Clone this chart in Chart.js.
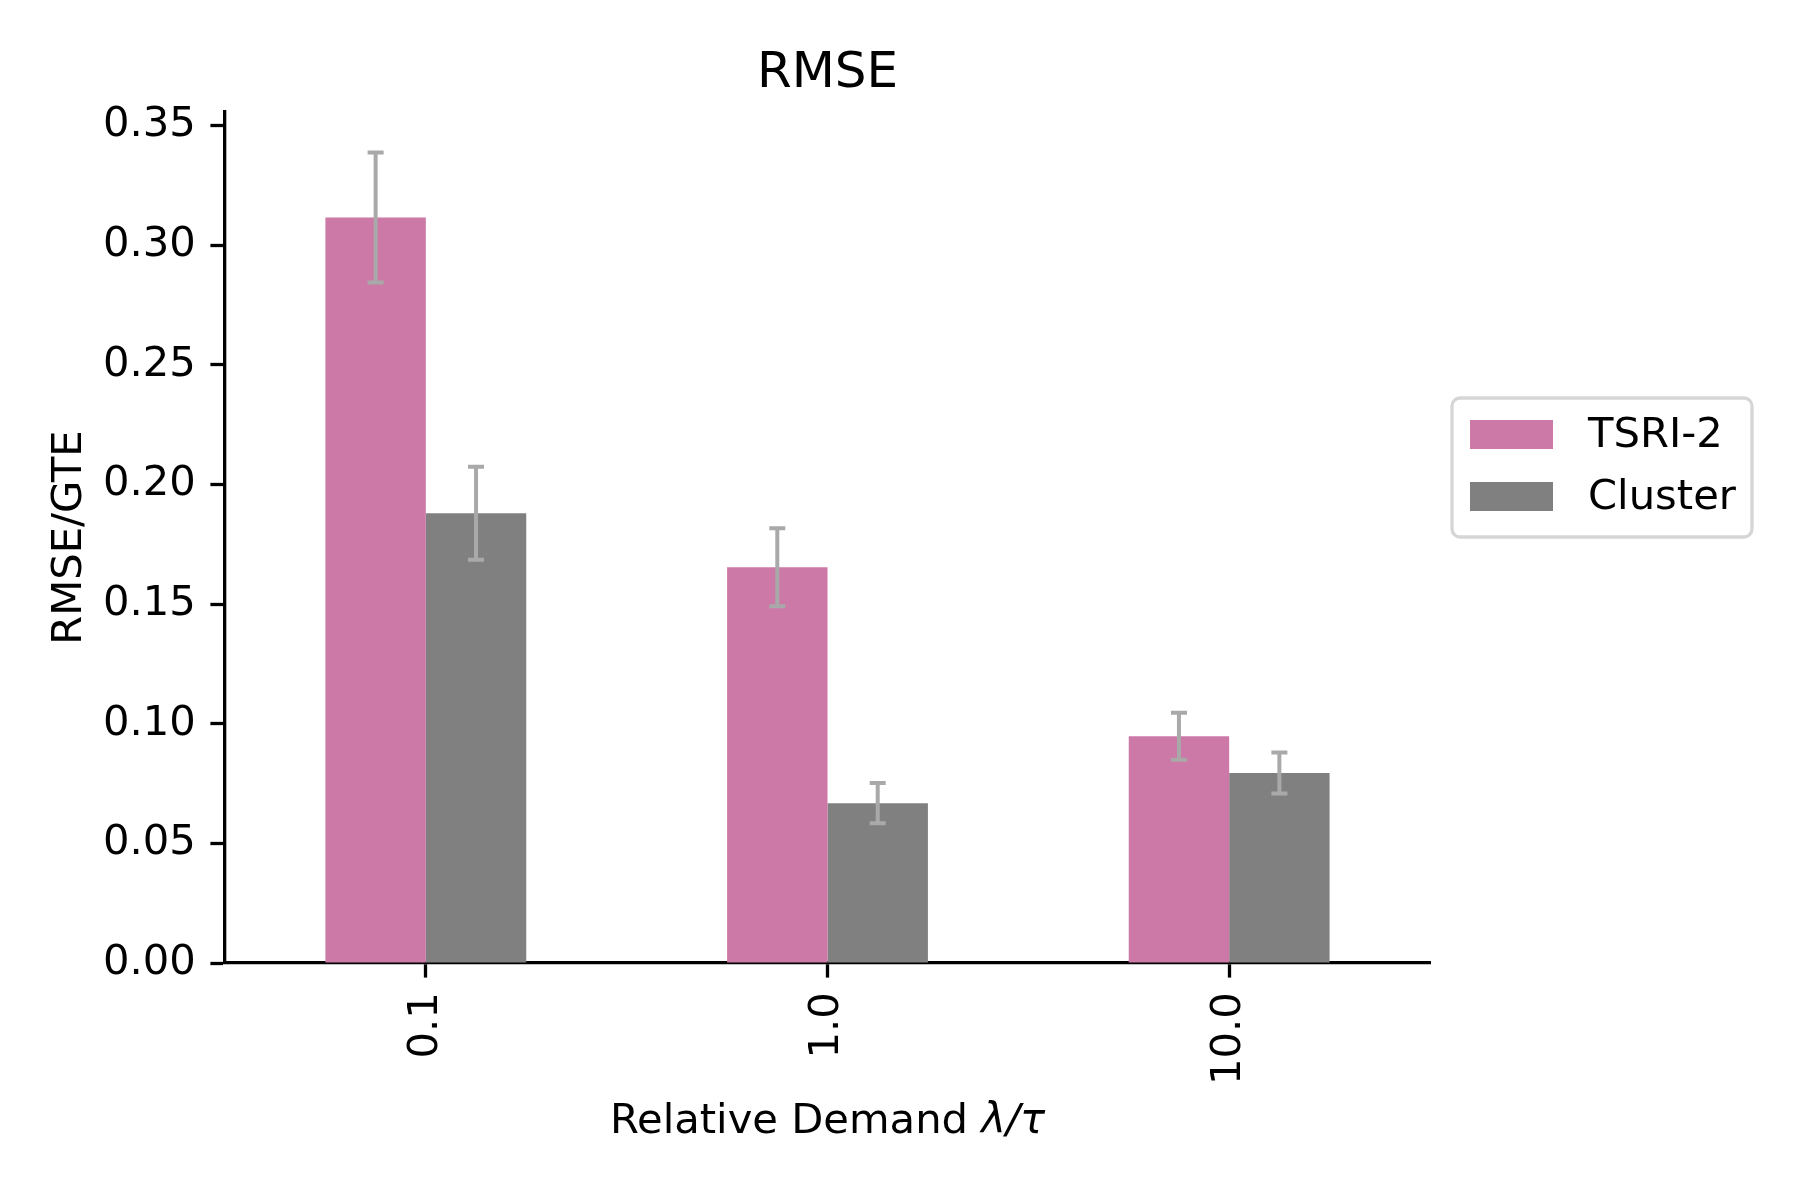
<!DOCTYPE html>
<html>
<head>
<meta charset="utf-8">
<script src="https://cdn.jsdelivr.net/npm/chart.js@4.4.1/dist/chart.umd.min.js"></script>
<style>
  html, body { margin: 0; padding: 0; background: #fff; }
</style>
</head>
<body>
<canvas id="chart" width="1800" height="1200"></canvas>
<script>
// data
const categories = ['0.1', '1.0', '10.0'];
const tsriValues = [0.3116, 0.1654, 0.0948];
const tsriErrors = [0.0272, 0.0163, 0.0098];
const clusterValues = [0.1880, 0.0668, 0.0794];
const clusterErrors = [0.0194, 0.0084, 0.0086];
const yMax = 0.3557;
const yStep = 0.05;

const FONT = '"DejaVu Sans", sans-serif';

// error bars on top of each bar
const errorBars = {
    id: 'errorBars',
    afterDatasetsDraw(chart) {
        const ctx = chart.ctx;
        const y = chart.scales.y;
        chart.data.datasets.forEach((ds, i) => {
            const meta = chart.getDatasetMeta(i);
            meta.data.forEach((bar, j) => {
                const top = y.getPixelForValue(ds.data[j] + ds.errors[j]);
                const bot = y.getPixelForValue(ds.data[j] - ds.errors[j]);
                ctx.save();
                ctx.strokeStyle = '#a9a9a9';
                ctx.lineWidth = 4;
                ctx.beginPath();
                ctx.moveTo(bar.x, top); ctx.lineTo(bar.x, bot);
                ctx.moveTo(bar.x - 8, top); ctx.lineTo(bar.x + 8, top);
                ctx.moveTo(bar.x - 8, bot); ctx.lineTo(bar.x + 8, bot);
                ctx.stroke();
                ctx.restore();
            });
        });
    }
};

// framed legend to the right of the axes
const boxLegend = {
    id: 'boxLegend',
    afterDraw(chart) {
        const ctx = chart.ctx;
        const a = chart.chartArea;
        const x0 = a.right + 22, y0 = 398, w = 300, h = 139;
        ctx.save();
        ctx.fillStyle = 'rgba(255,255,255,0.8)';
        ctx.strokeStyle = '#d6d6d6';
        ctx.lineWidth = 3.3;
        ctx.beginPath();
        ctx.roundRect(x0, y0, w, h, 8);
        ctx.fill();
        ctx.stroke();
        ctx.font = '41.7px ' + FONT;
        ctx.textBaseline = 'middle';
        chart.data.datasets.forEach((ds, i) => {
            const py = y0 + 22 + i * 62;
            ctx.fillStyle = ds.backgroundColor;
            ctx.fillRect(x0 + 18, py, 83, 29);
            ctx.fillStyle = '#000';
            ctx.fillText(ds.label, x0 + 136, py + 16);
        });
        ctx.restore();
    }
};

// x axis title, with the math part in italic
const xTitle = {
    id: 'xTitle',
    afterDraw(chart) {
        const ctx = chart.ctx;
        const a = chart.chartArea;
        const plain = 'Relative Demand ';
        const math = 'λ/τ';
        ctx.save();
        ctx.font = '41.7px ' + FONT;
        const w1 = ctx.measureText(plain).width;
        ctx.font = 'italic 41.7px ' + FONT;
        const w2 = ctx.measureText(math).width;
        let x = (a.left + a.right) / 2 - (w1 + w2) / 2;
        ctx.fillStyle = '#000';
        ctx.textBaseline = 'alphabetic';
        ctx.textAlign = 'left';
        ctx.font = '41.7px ' + FONT;
        ctx.fillText(plain, x, 1133);
        ctx.font = 'italic 41.7px ' + FONT;
        ctx.fillText(math, x + w1, 1133);
        ctx.restore();
    }
};

const ctx = document.getElementById('chart').getContext('2d');
const chart = new Chart(ctx, {
    type: 'bar',
    data: {
        labels: categories,
        datasets: [{
            label: 'TSRI-2',
            data: tsriValues,
            errors: tsriErrors,
            backgroundColor: '#cc79a7',
            borderWidth: 0,
            categoryPercentage: 0.5,
            barPercentage: 1.0
        }, {
            label: 'Cluster',
            data: clusterValues,
            errors: clusterErrors,
            backgroundColor: '#808080',
            borderWidth: 0,
            categoryPercentage: 0.5,
            barPercentage: 1.0
        }]
    },
    options: {
        responsive: false,
        animation: false,
        devicePixelRatio: 1,
        layout: { padding: { left: 0, right: 370, top: 0, bottom: 0 } },
        plugins: {
            legend: { display: false },
            tooltip: { enabled: false },
            title: {
                display: true,
                text: 'RMSE',
                fullSize: false,
                color: '#000',
                font: { family: FONT, size: 50, weight: 'normal' },
                padding: { top: 44, bottom: 8 }
            }
        },
        scales: {
            x: {
                offset: true,
                grid: {
                    offset: false,
                    drawOnChartArea: false,
                    drawTicks: true,
                    tickLength: 14.6,
                    tickWidth: 3.3,
                    tickColor: '#000'
                },
                border: { display: true, color: '#000', width: 3.3 },
                ticks: {
                    color: '#000',
                    font: { family: FONT, size: 41.7 },
                    minRotation: 90,
                    maxRotation: 90,
                    padding: 14.6
                },
                afterFit(scale) { scale.height = 237; }
            },
            y: {
                min: 0,
                max: yMax,
                grid: {
                    drawOnChartArea: false,
                    drawTicks: true,
                    tickLength: 14.6,
                    tickWidth: 3.3,
                    tickColor: '#000'
                },
                border: { display: true, color: '#000', width: 3.3 },
                ticks: {
                    stepSize: yStep,
                    includeBounds: false,
                    color: '#000',
                    font: { family: FONT, size: 41.7 },
                    padding: 14.6,
                    callback: (v) => v.toFixed(2)
                },
                title: {
                    display: true,
                    text: 'RMSE/GTE',
                    color: '#000',
                    font: { family: FONT, size: 41.7 },
                    padding: { top: 45, bottom: 0 }
                },
                afterFit(scale) { scale.width = 225; }
            }
        }
    },
    plugins: [errorBars, boxLegend, xTitle]
});
</script>
</body>
</html>
